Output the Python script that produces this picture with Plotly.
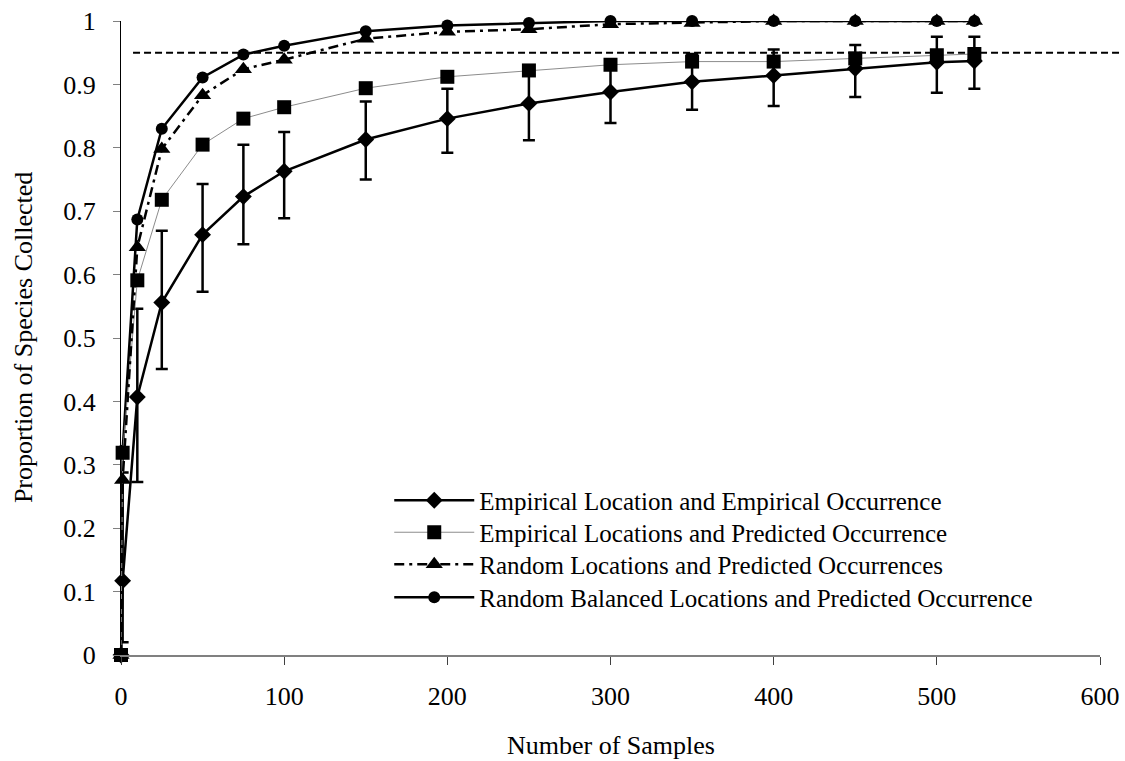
import plotly.graph_objects as go

# ---- data ----
samples = [0, 1, 10, 25, 50, 75, 100, 150, 200, 250, 300, 350, 400, 450, 500, 523]

emp_loc_emp_occ = [0, 0.117, 0.407, 0.556, 0.663, 0.723, 0.763, 0.813, 0.846, 0.870,
                   0.888, 0.904, 0.914, 0.925, 0.935, 0.937]
emp_err_plus = [0, 0.171, 0.139, 0.113, 0.080, 0.082, 0.062, 0.060, 0.047, 0.058,
                0.049, 0.044, 0.041, 0.037, 0.040, 0.038]
emp_err_minus = [0, 0.097, 0.134, 0.105, 0.090, 0.075, 0.074, 0.063, 0.054, 0.058,
                 0.049, 0.044, 0.048, 0.045, 0.048, 0.044]

emp_loc_pred_occ = [0, 0.319, 0.591, 0.718, 0.805, 0.846, 0.864, 0.894, 0.912, 0.922,
                    0.931, 0.936, 0.936, 0.941, 0.946, 0.948]

rand_loc_pred_occ = [0, 0.276, 0.643, 0.798, 0.883, 0.924, 0.939, 0.972, 0.983, 0.987,
                     0.995, 0.997, 1.0, 1.0, 1.0, 1.0]

rand_bal_pred_occ = [0, 0.322, 0.687, 0.830, 0.911, 0.947, 0.961, 0.984, 0.993, 0.997,
                     1.0, 1.0, 1.0, 1.0, 1.0, 1.0]

series_names = [
    "Empirical Location and Empirical Occurrence",
    "Empirical Locations and Predicted Occurrence",
    "Random Locations and Predicted Occurrences",
    "Random Balanced Locations and Predicted Occurrence",
]

threshold = 0.95

y_ticks = [0, 0.1, 0.2, 0.3, 0.4, 0.5, 0.6, 0.7, 0.8, 0.9, 1]
y_tick_labels = ["0", "0.1", "0.2", "0.3", "0.4", "0.5", "0.6", "0.7", "0.8", "0.9", "1"]
x_ticks = [0, 100, 200, 300, 400, 500, 600]

x_title = "Number of Samples"
y_title = "Proportion of Species Collected"

FONT = "Liberation Serif"

fig = go.Figure()

# drawn first so the squares sit on top of the first circle
fig.add_trace(go.Scatter(
    x=samples, y=rand_bal_pred_occ, name=series_names[3], mode="lines+markers",
    line=dict(color="black", width=2.5),
    marker=dict(symbol="circle", size=12, color="black"),
    cliponaxis=False, legend="legend4",
))
fig.add_trace(go.Scatter(
    x=samples, y=emp_loc_emp_occ, name=series_names[0], mode="lines+markers",
    line=dict(color="black", width=2.5),
    marker=dict(symbol="diamond", size=13, color="black"),
    error_y=dict(type="data", symmetric=False, array=emp_err_plus,
                 arrayminus=emp_err_minus, color="black", thickness=2.5, width=6),
    cliponaxis=False, legend="legend",
))
fig.add_trace(go.Scatter(
    x=samples, y=emp_loc_pred_occ, name=series_names[1], mode="lines+markers",
    line=dict(color="#8c8c8c", width=1),
    marker=dict(symbol="square", size=14, color="black"),
    cliponaxis=False, legend="legend2",
))
fig.add_trace(go.Scatter(
    x=samples, y=rand_loc_pred_occ, name=series_names[2], mode="lines+markers",
    line=dict(color="black", width=2.5, dash="10px,5px,3px,5px"),
    marker=dict(symbol="triangle-up", size=15, color="black"),
    cliponaxis=False, legend="legend3",
))

fig.add_shape(type="line", xref="paper", yref="y", x0=0.0123, x1=1.0235,
              y0=threshold, y1=threshold,
              line=dict(color="black", width=2, dash="7px,4px"))

fig.add_annotation(text=x_title, xref="paper", yref="paper", x=0.5, y=-0.142,
                   xanchor="center", yanchor="middle", showarrow=False,
                   font=dict(family=FONT, size=26, color="black"))
fig.add_annotation(text=y_title, xref="paper", yref="paper", x=-0.1, y=0.5,
                   xanchor="center", yanchor="middle", showarrow=False, textangle=-90,
                   font=dict(family=FONT, size=26, color="black"))


def legend_box(ytop):
    return dict(x=0.274, y=ytop, xanchor="left", yanchor="top",
                font=dict(family=FONT, size=25, color="black"),
                bgcolor="rgba(0,0,0,0)", itemwidth=80)


fig.update_layout(
    width=1125, height=761,
    margin=dict(l=121, r=25, t=21, b=106, autoexpand=False),
    paper_bgcolor="white", plot_bgcolor="white",
    font=dict(family=FONT, size=26, color="black"),
    showlegend=True,
    legend=legend_box(0.280),
    legend2=legend_box(0.2295),
    legend3=legend_box(0.179),
    legend4=legend_box(0.127),
    xaxis=dict(range=[0, 600], tickvals=x_ticks, showgrid=False, zeroline=False,
               automargin=False,
               showline=True, linecolor="#808080", linewidth=1.5,
               ticks="outside", ticklen=8, tickcolor="#404040", tickwidth=1,
               ticklabelstandoff=9,
               tickfont=dict(family=FONT, size=26, color="black")),
    yaxis=dict(range=[0, 1], tickvals=y_ticks, ticktext=y_tick_labels,
               showgrid=False, zeroline=False, automargin=False,
               showline=True, linecolor="black", linewidth=1.2,
               ticks="outside", ticklen=7, tickcolor="#808080", tickwidth=1,
               ticklabelstandoff=12,
               tickfont=dict(family=FONT, size=26, color="black")),
)

fig.write_html("out.html")
